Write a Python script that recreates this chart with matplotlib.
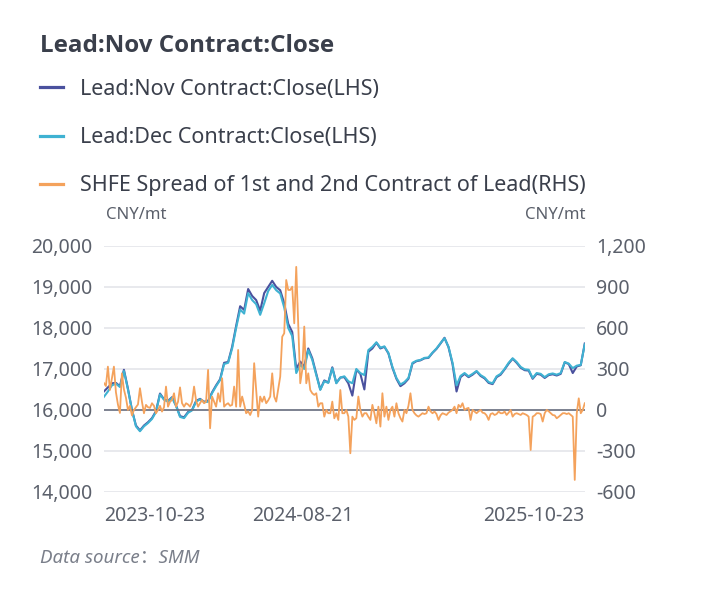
import matplotlib
matplotlib.use("Agg")
import matplotlib.pyplot as plt
import matplotlib.ticker as mticker
import pandas as pd
import numpy as np

start_date = "2023-10-23"
end_date = "2025-10-23"
x_tick_labels = ["2023-10-23", "2024-08-21", "2025-10-23"]

dec_close = [16320, 16450, 16600, 16640, 16560, 16950, 16500, 16000, 15600, 15480,
             15600, 15680, 15780, 15950, 16380, 16250, 16200, 16300, 16100, 15830,
             15800, 15930, 15990, 16200, 16260, 16190, 16200, 16410, 16580, 16730,
             17120, 17150, 17500, 18000, 18450, 18350, 18850, 18680, 18580, 18320,
             18600, 18900, 19050, 18920, 18840, 18500, 18000, 17800, 16900, 17100,
             17000, 17460, 17220, 16850, 16490, 16700, 16660, 17020, 16650, 16790,
             16820, 16700, 16650, 17000, 16900, 16850, 17460, 17540, 17650, 17520,
             17550, 17390, 17050, 16780, 16620, 16680, 16780, 17150, 17200, 17220,
             17270, 17280, 17400, 17500, 17630, 17750, 17540, 17150, 16600, 16830,
             16900, 16820, 16880, 16950, 16850, 16790, 16680, 16650, 16820, 16880,
             17000, 17150, 17260, 17170, 17050, 16990, 16980, 16780, 16900, 16880,
             16800, 16870, 16890, 16860, 16900, 17170, 17130, 17020, 17080, 17100,
             17600]

nov_close = [16450, 16550, 16650, 16660, 16580, 16980, 16520, 16000, 15620, 15500,
             15620, 15700, 15800, 15970, 16400, 16260, 16220, 16310, 16110, 15850,
             15820, 15950, 16000, 16220, 16270, 16200, 16220, 16430, 16600, 16750,
             17150, 17170, 17540, 18050, 18530, 18440, 18950, 18780, 18680, 18420,
             18850, 19000, 19150, 19000, 18920, 18600, 18100, 17900, 17000, 17180,
             17060, 17500, 17260, 16880, 16500, 16720, 16670, 17040, 16660, 16790,
             16800, 16650, 16350, 16980, 16880, 16500, 17420, 17500, 17640, 17500,
             17540, 17380, 17030, 16760, 16580, 16650, 16760, 17130, 17190, 17210,
             17260, 17270, 17390, 17490, 17620, 17760, 17530, 17120, 16450, 16800,
             16880, 16800, 16860, 16940, 16830, 16770, 16660, 16630, 16800, 16860,
             16990, 17130, 17250, 17150, 17030, 16970, 16960, 16760, 16880, 16860,
             16780, 16850, 16870, 16840, 16880, 17160, 17120, 16900, 17060, 17090,
             17620]

spread = [197, 175, 317, 146, 230, 317, 130, 40, -22, 268,
          150, 90, 0, 30, -40, 0, 20, 40, 159, 60,
          -24, 37, 20, 15, 49, 30, -24, 0, 30, -12,
          20, 171, 24, 60, 73, 122, 24, 60, 165, 49,
          24, 49, 40, 24, 60, 171, 70, 24, 50, 73,
          49, 60, 293, -134, 98, 60, 24, 122, 60, 232,
          24, 40, 49, 30, 37, 171, 24, 439, 24, 98,
          40, -24, -10, -37, 0, 342, 146, -49, 98, 60,
          98, 49, 70, 98, 268, 98, 61, 150, 244, 536,
          561, 951, 878, 878, 902, 634, 1047, 610, 195, 293,
          610, 195, 268, 146, 122, 110, 122, 24, 49, 49,
          -49, 0, -24, -24, 61, -61, -24, -73, 146, -24,
          -24, 0, -49, -317, -49, -73, -60, 98, 0, -49,
          -24, -24, -50, -73, 37, -24, -98, 24, -122, 122,
          -49, 24, -73, 0, 24, -49, 49, -24, -60, -85,
          0, -24, 30, 122, 0, -24, -40, -49, -37, -24,
          -30, -24, 24, -10, -24, -12, -30, -73, -40, -24,
          -30, -37, -20, -10, 0, 24, -24, 37, 20, 49,
          0, 10, 15, -73, 0, -12, -24, -10, 0, -20,
          -24, -40, -73, -30, -24, -37, -30, -12, -24, -24,
          -12, -37, -20, 0, -49, -30, -24, -30, -37, -24,
          -30, -37, -49, -293, -49, -40, -24, -24, -30, -85,
          -24, 0, -10, -24, -37, -40, -61, -50, -37, -24,
          -24, -30, -24, -37, -49, -512, -24, 85, -24, 0,
          49]

price_dates = pd.date_range(start_date, end_date, periods=len(dec_close))
spread_dates = pd.date_range(start_date, end_date, periods=len(spread))

C_NOV = "#4a519e"
C_DEC = "#3fb2d2"
C_SPR = "#f4a25c"
TXT = "#3a3f4b"
TICK = "#5b606b"
GRID = "#e4e5ea"

plt.rcParams["font.family"] = ["Noto Sans", "DejaVu Sans"]

fig = plt.figure(figsize=(7.02, 5.97), dpi=100)
ax = fig.add_axes([0.148, 0.176, 0.685, 0.412])
ax2 = ax.twinx()

ax.plot(price_dates, nov_close, color=C_NOV, lw=1.5, zorder=3, label="Lead:Nov Contract:Close(LHS)")
ax.plot(price_dates, dec_close, color=C_DEC, lw=1.5, zorder=4, label="Lead:Dec Contract:Close(LHS)")
ax2.plot(spread_dates, spread, color=C_SPR, lw=1.3, zorder=5, label="SHFE Spread of 1st and 2nd Contract of Lead(RHS)")

ax.set_ylim(14000, 20000)
ax.set_yticks(np.arange(14000, 20001, 1000))
ax.yaxis.set_major_formatter(mticker.FuncFormatter(lambda v, p: f"{int(v):,}"))
ax2.set_ylim(-600, 1200)
ax2.set_yticks(np.arange(-600, 1201, 300))
ax2.yaxis.set_major_formatter(mticker.FuncFormatter(lambda v, p: f"{int(v):,}"))

ax.set_xlim(pd.Timestamp(start_date), pd.Timestamp(end_date))
tick_dates = [pd.Timestamp(t) for t in x_tick_labels]
ax.set_xticks(tick_dates)
ax.set_xticklabels(x_tick_labels)
for lbl, ha in zip(ax.get_xticklabels(), ["left", "center", "right"]):
    lbl.set_ha(ha)

for a in (ax, ax2):
    for s in a.spines.values():
        s.set_visible(False)
    a.tick_params(length=0, labelsize=14, colors=TICK)
ax.tick_params(axis="y", pad=8)
ax2.tick_params(axis="y", pad=8)
ax.tick_params(axis="x", pad=10)

ax.set_axisbelow(True)
ax.yaxis.grid(True, color=GRID, lw=1.2)
ax2.axhline(0, color="#6b7080", lw=1.2, zorder=2)

fig.text(40 / 702, 1 - 46 / 597, "Lead:Nov Contract:Close", fontsize=17.4, fontweight="bold",
         color=TXT, va="center", ha="left", family=["Open Sans", "DejaVu Sans"])

h1, l1 = ax.get_legend_handles_labels()
h2, l2 = ax2.get_legend_handles_labels()
leg = fig.legend(h1 + h2, l1 + l2, loc="upper left", bbox_to_anchor=(40 / 702, 1 - 79 / 597),
                 frameon=False, fontsize=15.5, labelspacing=1.26, handlelength=1.07,
                 handletextpad=0.8, borderpad=0, borderaxespad=0)
for t in leg.get_texts():
    t.set_color(TXT)
for lh in leg.get_lines():
    lh.set_linewidth(2.3)

fig.text(136 / 702, 1 - 215 / 597, "CNY/mt", fontsize=12, color=TICK, ha="center", va="center")
fig.text(585 / 702, 1 - 215 / 597, "CNY/mt", fontsize=12, color=TICK, ha="right", va="center")

fig.text(40 / 702, 1 - 558 / 597, "Data source\uff1aSMM", fontsize=13.5, color="#7a7f8a",
         style="italic", ha="left", va="center", family=["Noto Sans", "Noto Sans CJK SC", "DejaVu Sans"])

fig.savefig("out.png", dpi=100)
